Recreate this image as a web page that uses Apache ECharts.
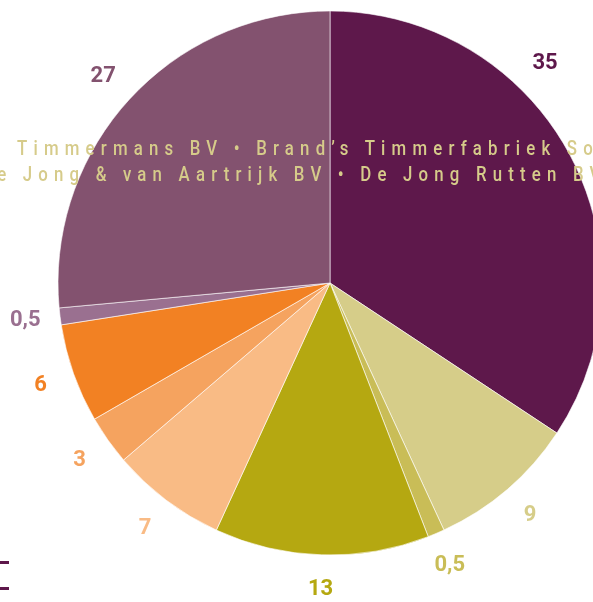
<!DOCTYPE html>
<html>
<head>
<meta charset="utf-8">
<script src="https://cdn.jsdelivr.net/npm/echarts@6/dist/echarts.min.js"></script>
<style>
html, body { margin: 0; padding: 0; background: #fff; overflow: hidden; }
#wrap { position: relative; width: 593px; height: 602px; overflow: hidden; }
#chart { position: absolute; left: 0; top: 0; width: 593px; height: 602px; }
.band {
  position: absolute;
  white-space: nowrap;
  font-family: Roboto, "Liberation Sans", sans-serif;
  font-size: 20.5px;
  font-weight: 500;
  letter-spacing: 7.55px;
  line-height: 20px;
  color: #d6cb8a;
  transform: scaleX(0.82);
  transform-origin: 0 0;
  pointer-events: none;
}
</style>
</head>
<body>
<div id="wrap">
  <div id="chart"></div>
  <div class="band" style="left:17px; top:138px">Timmermans BV • Brand’s Timmerfabriek So</div>
  <div class="band" style="left:-20px; top:164px">De Jong &amp; van Aartrijk BV • De Jong Rutten BV</div>
</div>
<script>
// aandeel per segment, met de klok mee vanaf boven
var names = ["Segment 1", "Segment 2", "Segment 3", "Segment 4", "Segment 5",
             "Segment 6", "Segment 7", "Segment 8", "Segment 9"];
var values = [35, 9, 0.5, 13, 7, 3, 6, 0.5, 27];
var colors = ["#5e184b", "#d6cd89", "#c9bd57", "#b5a811", "#f9bb85",
              "#f5a35f", "#f28123", "#9a7090", "#83526f"];

var W = 593;
var cx = 330, cy = 283, R = 272;
var labelR = 307;
var minAngle = 3.6;

// middenhoek per segment, zoals de pie ze legt (met minAngle)
var total = values.reduce(function (a, b) { return a + b; }, 0);
var small = values.filter(function (v) { return v / total * 360 < minAngle; });
var bigSum = values.reduce(function (a, v) { return v / total * 360 < minAngle ? a : a + v; }, 0);
var rest = 360 - small.length * minAngle;
var midAngles = [];
var acc = 0;
values.forEach(function (v) {
  var ang = v / total * 360 < minAngle ? minAngle : v / bigSum * rest;
  midAngles.push((acc + ang / 2) * Math.PI / 180);
  acc += ang;
});

var chart = echarts.init(document.getElementById("chart"));

var option = {
  animation: false,
  graphic: [
    { type: "rect", shape: { x: 0, y: 561, width: 9, height: 3 }, style: { fill: "#5e184b" } },
    { type: "rect", shape: { x: 0, y: 587, width: 9, height: 3 }, style: { fill: "#5e184b" } }
  ],
  series: [
    {
      type: "pie",
      center: [cx, cy],
      radius: R,
      startAngle: 90,
      clockwise: true,
      minAngle: minAngle,
      avoidLabelOverlap: false,
      silent: true,
      itemStyle: { borderColor: "#fff", borderWidth: 0.6 },
      label: {
        show: true,
        position: "outside",
        fontFamily: "Roboto",
        fontWeight: "bold",
        fontSize: 22,
        formatter: function (p) { return String(p.value).replace(".", ","); }
      },
      labelLine: { show: false },
      // labels op vaste afstand rond het midden, binnen de rand gehouden
      labelLayout: function (p) {
        var a = midAngles[p.dataIndex];
        var x = cx + labelR * Math.sin(a);
        var y = cy - labelR * Math.cos(a);
        var maxX = W - 48;
        if (x > maxX) {
          var a2 = Math.asin((maxX - cx) / labelR);
          if (Math.cos(a) < 0) a2 = Math.PI - a2;
          x = cx + labelR * Math.sin(a2);
          y = cy - labelR * Math.cos(a2);
        }
        return { x: x, y: y, align: "center", verticalAlign: "middle", hideOverlap: false, moveOverlap: null };
      },
      data: values.map(function (v, i) {
        return {
          name: names[i],
          value: v,
          itemStyle: { color: colors[i] },
          label: { color: colors[i] }
        };
      })
    }
  ]
};

chart.setOption(option);
</script>
</body>
</html>
